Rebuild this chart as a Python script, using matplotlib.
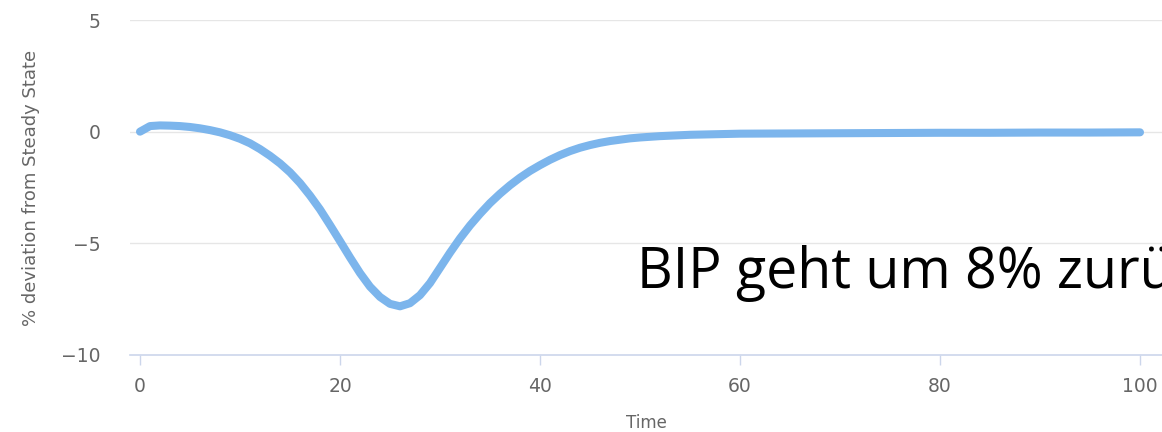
import matplotlib
matplotlib.use("Agg")
import matplotlib.pyplot as plt

# impulse response
time = list(range(0, 61)) + [65, 70, 75, 80, 85, 90, 95, 100]
deviation = [
    0.0, 0.25, 0.28, 0.27, 0.25, 0.21, 0.15, 0.07, -0.03, -0.16,
    -0.32, -0.52, -0.78, -1.08, -1.42, -1.82, -2.3, -2.86, -3.48, -4.18,
    -4.9, -5.63, -6.33, -6.94, -7.4, -7.71, -7.82, -7.68, -7.32, -6.78,
    -6.1, -5.42, -4.78, -4.2, -3.68, -3.2, -2.78, -2.4, -2.06, -1.76,
    -1.5, -1.26, -1.05, -0.87, -0.72, -0.6, -0.5, -0.42, -0.36, -0.3,
    -0.26, -0.23, -0.2, -0.18, -0.16, -0.14, -0.13, -0.12, -0.11, -0.1,
    -0.09, -0.08, -0.07, -0.06, -0.05, -0.05, -0.04, -0.04, -0.03,
]
x_ticks = [0, 20, 40, 60, 80, 100]
y_ticks = [5, 0, -5, -10]
y_tick_labels = ["5", "0", "\u22125", "\u221210"]
note = "BIP geht um 8% zurück"

W, H = 1162, 432
fig = plt.figure(figsize=(W / 100, H / 100), dpi=100)
ax = fig.add_axes([130 / W, 1 - 355 / H, 1 - 130 / W, (355 - 20) / H])

ax.plot(time, deviation, color="#7cb5ec", lw=5.8, solid_capstyle="round",
        solid_joinstyle="round", zorder=3)

ax.set_xlim(-1, 102.2)
ax.set_ylim(-10, 5)
ax.set_xticks(x_ticks)
ax.set_xticklabels([str(t) for t in x_ticks])
ax.set_yticks(y_ticks)
ax.set_yticklabels(y_tick_labels)

for v in y_ticks[:-1]:
    ax.axhline(v, color="#e6e6e6", lw=1, zorder=1)

for s in ["top", "right", "left"]:
    ax.spines[s].set_visible(False)
ax.spines["bottom"].set_color("#ccd6eb")
ax.spines["bottom"].set_linewidth(1.2)

ax.tick_params(axis="x", length=7, width=1, color="#ccd6eb", pad=9,
               labelsize=13.5, labelcolor="#666666")
ax.tick_params(axis="y", length=0, pad=21, labelsize=13.5,
               labelcolor="#666666")

ax.set_xlabel("Time", fontsize=12, color="#666666", labelpad=13)
ax.set_ylabel("% deviation from Steady State", fontsize=13,
              color="#666666", labelpad=15)

fig.text(637 / W, 1 - 288 / H, note, fontsize=40, family="Open Sans",
         color="black", va="baseline", ha="left")

fig.savefig("out.png", dpi=100)
